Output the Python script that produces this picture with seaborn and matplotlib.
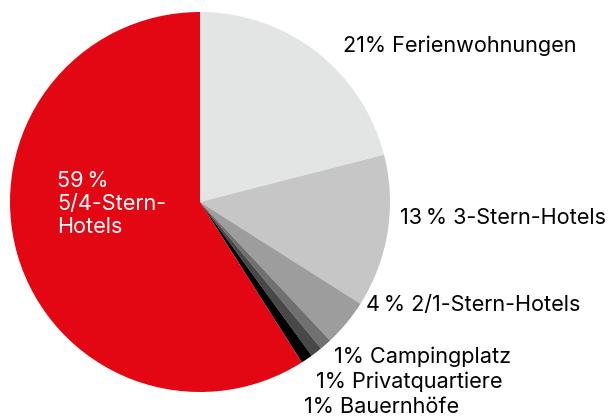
import matplotlib
matplotlib.use("Agg")
import seaborn as sns
import matplotlib.pyplot as plt

# Daten
kategorien = ["Ferienwohnungen", "3-Stern-Hotels", "2/1-Stern-Hotels",
              "Campingplatz", "Privatquartiere", "Bauernhöfe", "5/4-Stern-Hotels"]
anteile = [21, 13, 4, 1, 1, 1, 59]
farben = ["#e3e4e4", "#c6c6c6", "#9d9d9d", "#707070", "#484848", "#000000", "#e30613"]
beschriftungen = ["21% Ferienwohnungen", "13\u2009% 3-Stern-Hotels", "4\u2009% 2/1-Stern-Hotels",
                  "1% Campingplatz", "1% Privatquartiere", "1% Bauernhöfe",
                  "59\u2009%\n5/4-Stern-\nHotels"]

sns.set_style("white")
plt.rcParams['font.family'] = ['Inter', 'DejaVu Sans']

fig = plt.figure(figsize=(6.16, 4.19), dpi=100)
ax = fig.add_axes([0, 0, 1, 1])

R = 190  # Radius in Pixel
cx, cy = 200, 202

ax.pie(anteile, colors=farben, startangle=90, counterclock=False,
       radius=1, center=(0, 0), wedgeprops=dict(linewidth=0))

def px(x, y):
    return (x - cx) / R, (cy - y) / R

ax.set_xlim(-cx / R, (616 - cx) / R)
ax.set_ylim(-(419 - cy) / R, cy / R)
ax.set_aspect('auto')
ax.axis('off')

# Positionen der Beschriftungen (Pixel: linker Rand, Mitte)
pos = [(343, 46), (400, 218), (366, 305), (334, 357), (316, 382), (304, 407)]
for txt, (x, y) in zip(beschriftungen[:6], pos):
    ax.text(*px(x, y), txt, ha='left', va='center', fontsize=15.6, color='black')

ax.text(*px(57, 204), beschriftungen[6], ha='left', va='center', fontsize=15.6,
        color='white', linespacing=1.2)

fig.savefig("out.png", dpi=100)
